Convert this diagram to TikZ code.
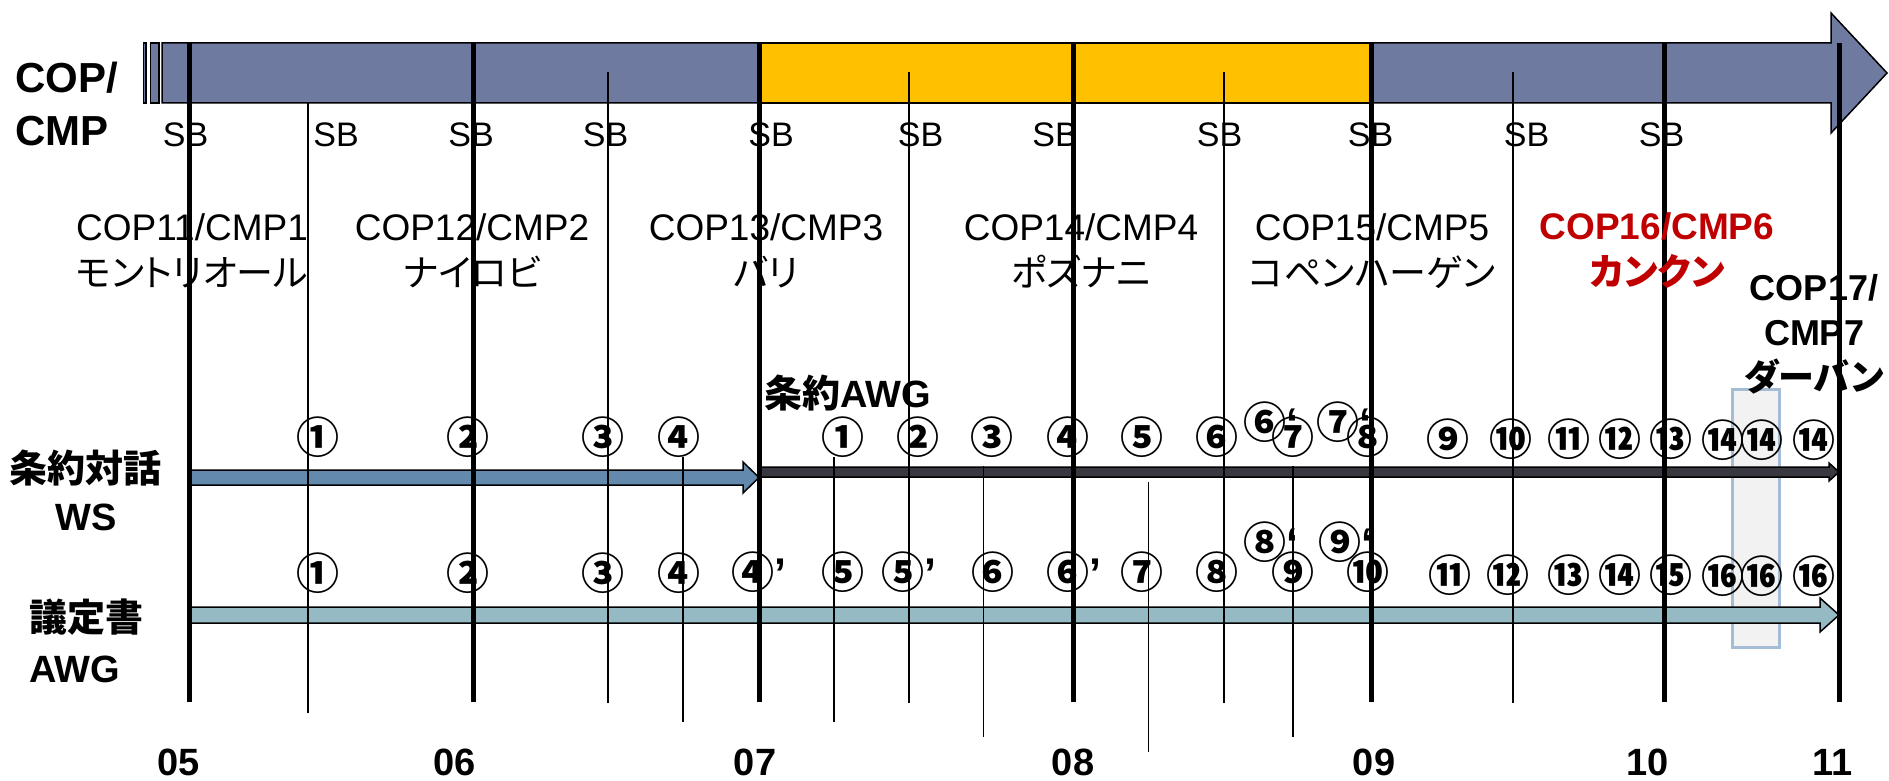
\documentclass[tikz,border=0pt]{standalone}
\usepackage{fontspec}
\setmainfont{Liberation Sans}
\newfontfamily\jp{Noto Sans CJK JP}[RawFeature=+palt]
\newfontfamily\jpc{Noto Sans CJK JP}
\definecolor{copblue}{RGB}{111,122,160}
\definecolor{copyellow}{RGB}{255,192,0}
\definecolor{wsblue}{RGB}{99,137,173}
\definecolor{awgdark}{RGB}{56,57,64}
\definecolor{kpteal}{RGB}{149,186,196}
\definecolor{boxfill}{RGB}{242,242,242}
\definecolor{boxedge}{RGB}{164,188,212}
\definecolor{copred}{RGB}{192,0,0}
\begin{document}
\begin{tikzpicture}[x=0.5pt,y=-0.5pt,
  yearline/.style={line width=2.5pt},
  monthline/.style={line width=0.7pt},
  barout/.style={line width=0.75pt, draw=black},
  sblbl/.style={font=\fontsize{17}{20}\selectfont, inner sep=0pt},
  coplbl/.style={font=\fontsize{18.5}{23}\selectfont, align=center, inner sep=0pt},
  rowlbl/.style={font=\bfseries\fontsize{19}{24.5}\selectfont, inner sep=0pt},
  circnum/.style={font=\jpc\bfseries\fontsize{21.5}{21.5}\selectfont, inner sep=0pt},
  yearlbl/.style={font=\bfseries\fontsize{19}{20}\selectfont, inner sep=0pt}]

\useasboundingbox (0,0) rectangle (1889,781);

% highlight box
\draw[fill=boxfill, draw=boxedge, line width=1.5pt] (1732,389) rectangle (1779,647);

% top COP/CMP arrow
\draw[barout, fill=copblue] (143.3,43) rectangle (146,103);
\draw[barout, fill=copblue] (150.7,43) rectangle (159,103);
\draw[barout, fill=copblue] (162,43) -- (1831,43) -- (1831,13) -- (1887,73) -- (1831,133) -- (1831,103) -- (162,103) -- cycle;
\fill[copyellow] (759,43) rectangle (1371,103);
\draw[line width=0.75pt] (759,43) -- (1371,43) (759,103) -- (1371,103);

% bars
\draw[barout, fill=wsblue] (190,470) -- (743,470) -- (743,462) -- (759,477.5) -- (743,493) -- (743,485) -- (190,485) -- cycle;
\draw[barout, fill=awgdark] (759,467) -- (1829,467) -- (1829,463) -- (1839,472) -- (1829,481) -- (1829,477) -- (759,477) -- cycle;
\draw[barout, fill=kpteal] (190,607) -- (1820,607) -- (1820,598) -- (1839,615) -- (1820,632) -- (1820,623) -- (190,623) -- cycle;

% year lines
\foreach \x in {189,473,759,1073,1371,1664,1839}
  \draw[yearline] (\x,43) -- (\x,702);

% month lines
\draw[monthline] (308,103) -- (308,713);
\draw[monthline] (608,72) -- (608,703);
\draw[monthline] (683,457) -- (683,722);
\draw[monthline] (834,457) -- (834,722);
\draw[monthline] (909,72) -- (909,703);
\draw[monthline] (983.5,466) -- (983.5,737);
\draw[monthline] (1148.6,482) -- (1148.6,752);
\draw[monthline] (1224,72) -- (1224,703);
\draw[monthline] (1293,466) -- (1293,737);
\draw[monthline] (1513,72) -- (1513,703);

% row labels
\node[rowlbl, font=\bfseries\fontsize{21}{26.25}\selectfont, align=left, anchor=west] (copcmp) at (15,104) {COP/\\CMP};
\node[rowlbl, align=center, font=\bfseries\fontsize{19}{24}\selectfont] (ws) at (86,490) {{\jp 条約対話}\\WS};
\node[rowlbl, align=left, anchor=west, font=\bfseries\fontsize{19}{25.5}\selectfont] (kp) at (29,641) {{\jp 議定書}\\AWG};
\node[rowlbl, anchor=west] (awgc) at (764,393) {{\jp 条約}AWG};

% SB labels
\foreach \x/\n in {185.5/1,336/2,471/3,605.5/4,771/5,920.5/6,1055/7,1219.5/8,1370.5/9,1526.5/10,1661.5/11}
  \node[sblbl] (sb\n) at (\x,134.5) {SB};

% COP labels
\node[coplbl] (cop11) at (192,251) {COP11/CMP1\\{\jp モントリオール}};
\node[coplbl] (cop12) at (472,251) {COP12/CMP2\\{\jp ナイロビ}};
\node[coplbl] (cop13) at (766,251) {COP13/CMP3\\{\jp バリ}};
\node[coplbl] (cop14) at (1081,251) {COP14/CMP4\\{\jp ポズナニ}};
\node[coplbl] (cop15) at (1372,251) {COP15/CMP5\\{\jp コペンハーゲン}};
\node[coplbl, text=copred, font=\bfseries\fontsize{18.5}{23}\selectfont] (cop16) at (1657,251) {COP16/CMP6\\{\jp カンクン}};
\node[coplbl, font=\bfseries\fontsize{18}{22.5}\selectfont] (cop17) at (1814,334) {COP17/\\CMP7\\{\jp ダーバン}};

% circled numbers, upper row
\node[circnum] (t1) at (318,437) {①};
\node[circnum] (t2) at (468,437) {②};
\node[circnum] (t3) at (603,437) {③};
\node[circnum] (t4) at (678.6,437) {④};
\node[circnum] (u1) at (843,437) {①};
\node[circnum] (u2) at (918,437) {②};
\node[circnum] (u3) at (992,437) {③};
\node[circnum] (u4) at (1068,437) {④};
\node[circnum] (u5) at (1142,437) {⑤};
\node[circnum] (u6) at (1217,437) {⑥};
\node[circnum] (u6p) at (1265,421.7) {⑥\rlap{\rmfamily ‘}};
\node[circnum] (u7) at (1293,437.5) {⑦};
\node[circnum] (u7p) at (1338,421.7) {⑦\rlap{\rmfamily ‘}};
\node[circnum] (u8) at (1368,437.5) {⑧};
\node[circnum] (u9) at (1447.6,439) {⑨};
\node[circnum] (u10) at (1510.8,439) {⑩};
\node[circnum] (u11) at (1568.7,439) {⑪};
\node[circnum] (u12) at (1619.6,439) {⑫};
\node[circnum] (u13) at (1670.5,439) {⑬};
\node[circnum] (u14a) at (1723,440) {⑭};
\node[circnum] (u14b) at (1762,440) {⑭};
\node[circnum] (u14c) at (1814,440) {⑭};

% circled numbers, lower row
\node[circnum] (k1) at (318,573) {①};
\node[circnum] (k2) at (468,573) {②};
\node[circnum] (k3) at (603,573) {③};
\node[circnum] (k4) at (679,573) {④};
\node[circnum] (k4p) at (753,572) {④\rlap{\rmfamily ’}};
\node[circnum] (k5) at (843,572) {⑤};
\node[circnum] (k5p) at (903,572) {⑤\rlap{\rmfamily ’}};
\node[circnum] (k6) at (993,572) {⑥};
\node[circnum] (k6p) at (1068,572) {⑥\rlap{\rmfamily ’}};
\node[circnum] (k7) at (1142,572) {⑦};
\node[circnum] (k8) at (1217,572) {⑧};
\node[circnum] (k8p) at (1265,541.7) {⑧\rlap{\rmfamily ‘}};
\node[circnum] (k9) at (1293,572) {⑨};
\node[circnum] (k9p) at (1340,541.7) {⑨\rlap{\rmfamily ‘}};
\node[circnum] (k10) at (1368,572) {⑩};
\node[circnum] (k11) at (1449.7,575) {⑪};
\node[circnum] (k12) at (1507.5,575) {⑫};
\node[circnum] (k13) at (1568.7,575) {⑬};
\node[circnum] (k14) at (1619.6,575) {⑭};
\node[circnum] (k15) at (1670.5,575) {⑮};
\node[circnum] (k16a) at (1723,576) {⑯};
\node[circnum] (k16b) at (1762,576) {⑯};
\node[circnum] (k16c) at (1814,576) {⑯};

% year labels
\node[yearlbl] (y05) at (179,762) {05};
\node[yearlbl] (y06) at (455,762) {06};
\node[yearlbl] (y07) at (755,762) {07};
\node[yearlbl] (y08) at (1073,762) {08};
\node[yearlbl] (y09) at (1374,762) {09};
\node[yearlbl] (y10) at (1647.5,762) {10};
\node[yearlbl] (y11) at (1833,762) {11};
\end{tikzpicture}
\end{document}
